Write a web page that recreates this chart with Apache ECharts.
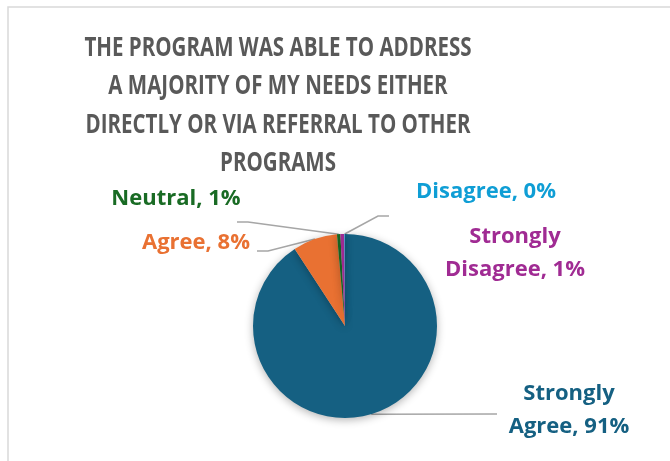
<!DOCTYPE html>
<html>
<head>
<meta charset="utf-8">
<script src="https://cdn.jsdelivr.net/npm/echarts@6/dist/echarts.min.js"></script>
<style>
  html, body { margin: 0; padding: 0; background: #fff; }
  #chart { width: 670px; height: 461px; }
</style>
</head>
<body>
<div id="chart"></div>
<script>
// slice names, clockwise from 12 o'clock
const categories = ['Strongly Agree', 'Agree', 'Neutral', 'Strongly Disagree', 'Disagree'];
// share of answers in percent
const shares = [90.8, 7.8, 0.6, 0.7, 0.1];
const colors = ['#156082', '#E97132', '#196B24', '#A02B93', '#0F9ED5'];
// label text split like the original (line breaks)
const labelNames = ['Strongly\nAgree', 'Agree', 'Neutral', 'Strongly\nDisagree', 'Disagree'];
const titleText = 'THE PROGRAM WAS ABLE TO ADDRESS\nA MAJORITY OF MY NEEDS EITHER\nDIRECTLY OR VIA REFERRAL TO OTHER\nPROGRAMS';

// hand placed label centers and leader line bends (layout only)
const labelSpots = [
  {x: 569, y: 410, bend: [497, 414], tail: [497, 414]},
  {x: 196, y: 243, bend: [268, 251], tail: [257, 251]},
  {x: 176, y: 199, bend: [248, 222], tail: [237, 222]},
  {x: 515, y: 253, bend: null, tail: null},
  {x: 486, y: 192, bend: [378, 216], tail: [389, 216]}
];

const chart = echarts.init(document.getElementById('chart'));

const option = {
  animation: false,
  graphic: [{
    type: 'rect',
    silent: true,
    shape: {x: 8, y: 7, width: 720, height: 520},
    style: {fill: 'none', stroke: '#d9d9d9', lineWidth: 1.5}
  }, {
    // title, squeezed a bit so it runs as narrow as the Calibri original
    type: 'text',
    silent: true,
    x: 278,
    y: 29,
    scaleX: 0.76,
    style: {
      text: titleText,
      font: 'bold 27px "Open Sans", sans-serif',
      fill: '#595959',
      textAlign: 'center',
      textVerticalAlign: 'top',
      lineHeight: 38.5
    }
  }],
  series: [{
    type: 'pie',
    center: [345, 326],
    radius: 92,
    startAngle: 90,
    clockwise: true,
    avoidLabelOverlap: false,
    data: categories.map((name, i) => ({
      name: name,
      value: shares[i],
      itemStyle: {color: colors[i]},
      label: {color: colors[i]},
      labelLine: {show: labelSpots[i].tail != null}
    })),
    itemStyle: {
      shadowBlur: 8,
      shadowColor: 'rgba(0,0,0,0.3)',
      shadowOffsetY: 2
    },
    label: {
      show: true,
      position: 'outside',
      formatter: p => labelNames[p.dataIndex] + ', ' + Math.round(p.value) + '%',
      fontFamily: '"Open Sans", sans-serif',
      fontWeight: 'bold',
      fontSize: 22,
      lineHeight: 33,
      align: 'center'
    },
    labelLine: {
      lineStyle: {color: '#a6a6a6', width: 1.5}
    },
    labelLayout: function (params) {
      const spot = labelSpots[params.dataIndex];
      const out = {x: spot.x, y: spot.y, align: 'center', verticalAlign: 'middle'};
      if (spot.tail && params.labelLinePoints) {
        out.labelLinePoints = [params.labelLinePoints[0], spot.bend, spot.tail];
      }
      return out;
    }
  }]
};

chart.setOption(option);
</script>
</body>
</html>
